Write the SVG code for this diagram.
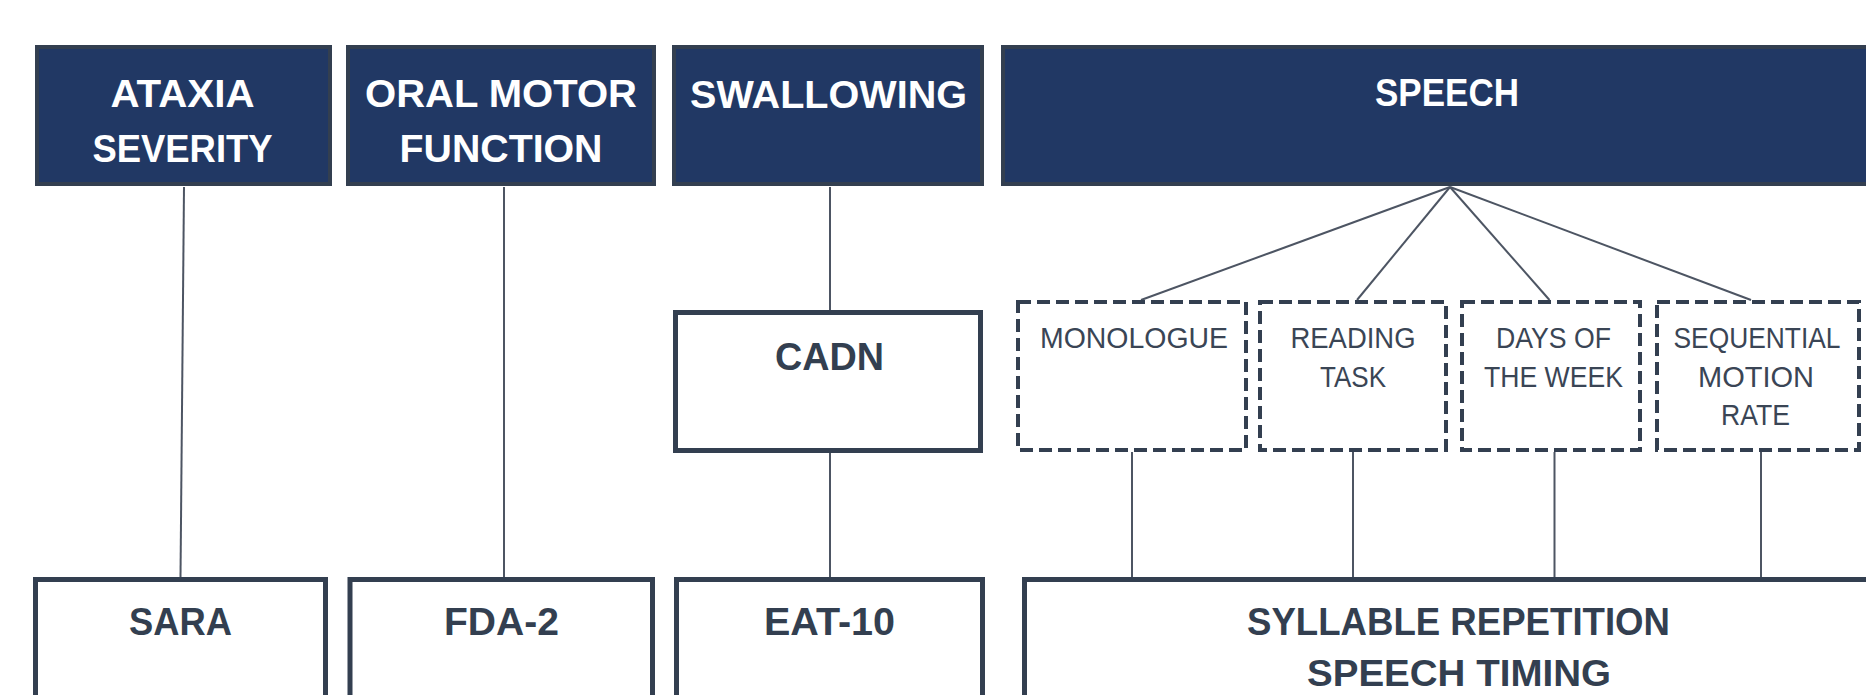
<svg xmlns="http://www.w3.org/2000/svg" width="1866" height="695" viewBox="0 0 1866 695">
<style>
.hdr{fill:#213864;stroke:#333f50;stroke-width:4}
.box{fill:#ffffff;stroke:#333f50;stroke-width:5}
.dash{fill:#ffffff;stroke:#333f50;stroke-width:4;stroke-dasharray:13 6}
.ht{font-family:"Liberation Sans",Arial,sans-serif;font-weight:bold;font-size:39px;fill:#ffffff;text-anchor:middle}
.bt{font-family:"Liberation Sans",Arial,sans-serif;font-weight:bold;font-size:39px;fill:#333f50;text-anchor:middle}
.dt{font-family:"Liberation Sans",Arial,sans-serif;font-size:30px;fill:#3a4555;text-anchor:middle}
.con{stroke:#4d5563;stroke-width:2;fill:none}
</style>
<rect width="1866" height="695" fill="#ffffff"/>
<g id="connectors">
<line class="con" x1="184" y1="187" x2="180.5" y2="577"/>
<line class="con" x1="504" y1="187" x2="504" y2="577"/>
<line class="con" x1="830" y1="187" x2="830" y2="310"/>
<line class="con" x1="830" y1="453" x2="830" y2="577"/>
<line class="con" x1="1450" y1="187" x2="1141" y2="300"/>
<line class="con" x1="1450" y1="187" x2="1357" y2="300"/>
<line class="con" x1="1450" y1="187" x2="1549.5" y2="300"/>
<line class="con" x1="1450" y1="187" x2="1751" y2="300"/>
<line class="con" x1="1132" y1="452" x2="1132" y2="577"/>
<line class="con" x1="1353" y1="452" x2="1353" y2="577"/>
<line class="con" x1="1554.5" y1="452" x2="1554.5" y2="577"/>
<line class="con" x1="1761" y1="452" x2="1761" y2="577"/>
</g>
<g id="ataxia">
<rect class="hdr" x="37" y="47" width="293" height="137"/>
<text class="ht" x="182.5" y="107" textLength="144" lengthAdjust="spacingAndGlyphs">ATAXIA</text>
<text class="ht" x="182.5" y="162" textLength="180" lengthAdjust="spacingAndGlyphs">SEVERITY</text>
</g>
<g id="oral">
<rect class="hdr" x="348" y="47" width="306" height="137"/>
<text class="ht" x="501" y="107" textLength="272" lengthAdjust="spacingAndGlyphs">ORAL MOTOR</text>
<text class="ht" x="501" y="162" textLength="203" lengthAdjust="spacingAndGlyphs">FUNCTION</text>
</g>
<g id="swallowing">
<rect class="hdr" x="674" y="47" width="308" height="137"/>
<text class="ht" x="828.5" y="108" textLength="277" lengthAdjust="spacingAndGlyphs">SWALLOWING</text>
</g>
<g id="speech">
<rect class="hdr" x="1003" y="47" width="890" height="137"/>
<text class="ht" x="1447" y="106" textLength="144" lengthAdjust="spacingAndGlyphs">SPEECH</text>
</g>
<g id="cadn">
<rect class="box" x="675.5" y="312.5" width="305" height="138"/>
<text class="bt" x="829.5" y="370" textLength="109" lengthAdjust="spacingAndGlyphs">CADN</text>
</g>
<g id="monologue">
<rect class="dash" x="1018" y="302" width="228" height="148"/>
<text class="dt" x="1134" y="348" textLength="188" lengthAdjust="spacingAndGlyphs">MONOLOGUE</text>
</g>
<g id="reading">
<rect class="dash" x="1260" y="302" width="186" height="148"/>
<text class="dt" x="1353" y="348" textLength="125" lengthAdjust="spacingAndGlyphs">READING</text>
<text class="dt" x="1353" y="386.5" textLength="66" lengthAdjust="spacingAndGlyphs">TASK</text>
</g>
<g id="days">
<rect class="dash" x="1462" y="302" width="178" height="148"/>
<text class="dt" x="1553.5" y="348" textLength="115" lengthAdjust="spacingAndGlyphs">DAYS OF</text>
<text class="dt" x="1553.5" y="386.5" textLength="139" lengthAdjust="spacingAndGlyphs">THE WEEK</text>
</g>
<g id="sequential">
<rect class="dash" x="1657" y="302" width="202" height="148"/>
<text class="dt" x="1757" y="348" textLength="167" lengthAdjust="spacingAndGlyphs">SEQUENTIAL</text>
<text class="dt" x="1756" y="386.5" textLength="116" lengthAdjust="spacingAndGlyphs">MOTION</text>
<text class="dt" x="1755.5" y="425" textLength="69" lengthAdjust="spacingAndGlyphs">RATE</text>
</g>
<g id="sara">
<rect class="box" x="35.5" y="579.5" width="290" height="150"/>
<text class="bt" x="180.5" y="635" textLength="103" lengthAdjust="spacingAndGlyphs">SARA</text>
</g>
<g id="fda2">
<rect class="box" x="350" y="579.5" width="302.5" height="150"/>
<text class="bt" x="501.5" y="635" textLength="115" lengthAdjust="spacingAndGlyphs">FDA-2</text>
</g>
<g id="eat10">
<rect class="box" x="676.5" y="579.5" width="306" height="150"/>
<text class="bt" x="829.5" y="635" textLength="131" lengthAdjust="spacingAndGlyphs">EAT-10</text>
</g>
<g id="syllable">
<rect class="box" x="1024.5" y="579.5" width="880" height="150"/>
<text class="bt" x="1458.5" y="635" textLength="423" lengthAdjust="spacingAndGlyphs">SYLLABLE REPETITION</text>
<text class="bt" x="1459" y="686" style="font-size:37px" textLength="304" lengthAdjust="spacingAndGlyphs">SPEECH TIMING</text>
</g>
</svg>
